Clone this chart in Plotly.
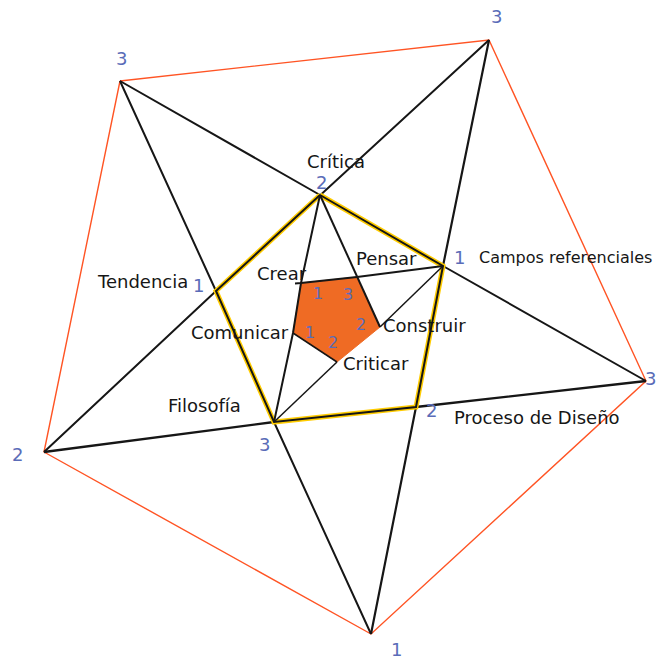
import plotly.graph_objects as go

# Outer pentagon vertices (A..E) and their numbers
outer_x = [120, 489, 646, 371, 44]
outer_y = [81, 40, 381, 634, 452]
outer_nums = ["3", "3", "3", "1", "2"]

# Middle pentagon (F..J), numbers and names
middle_x = [320, 443, 416, 274, 216]
middle_y = [195, 266, 407, 422, 291]
middle_nums = ["2", "1", "2", "3", "1"]
middle_names = ["Crítica", "Campos referenciales", "Proceso de Diseño", "Filosofía", "Tendencia"]

# Inner pentagon (K..O), names and numbers
inner_x = [301, 357, 380, 337, 293]
inner_y = [283, 277, 327, 362, 333]
inner_names = ["Crear", "Pensar", "Construir", "Criticar", "Comunicar"]
inner_nums = ["1", "3", "2", "2", "1"]

RED = "#FF5424"
BLACK = "#161616"
GOLD = "#FFCC00"
ORANGE = "#EF6B24"
BLUE = "#5A6CB8"
FONT = "DejaVu Sans"

A, B, C, D, E = range(5)
F, G, H, I, J = range(5)
K, L, M, N, O = range(5)

def P(xs, ys, i):
    return xs[i], ys[i]

def o(i):
    return P(outer_x, outer_y, i)

def m(i):
    return P(middle_x, middle_y, i)

def n(i):
    return P(inner_x, inner_y, i)

fig = go.Figure()

def add_line(pts, color, width):
    fig.add_trace(go.Scatter(x=[p[0] for p in pts], y=[p[1] for p in pts], mode="lines",
                             line=dict(color=color, width=width), hoverinfo="skip", showlegend=False))

# outer pentagon
add_line([o(A), o(B), o(C), o(D), o(E), o(A)], RED, 1.4)

# outer diagonals through middle vertices
add_line([o(A), m(F), m(G), o(C)], BLACK, 2.0)
add_line([o(A), m(J), m(I), o(D)], BLACK, 2.0)
add_line([o(B), m(F), m(J), o(E)], BLACK, 2.0)
add_line([o(B), m(G), m(H), o(D)], BLACK, 2.2)
add_line([o(C), m(H), m(I), o(E)], BLACK, 2.3)

# middle pentagon: gold band with black line
mid_loop = [m(F), m(G), m(H), m(I), m(J), m(F)]
add_line(mid_loop, GOLD, 5)
add_line(mid_loop, BLACK, 2.0)

# inner pentagon fill
fig.add_trace(go.Scatter(x=inner_x + [inner_x[0]], y=inner_y + [inner_y[0]], mode="lines",
                         fill="toself", fillcolor=ORANGE, line=dict(color=ORANGE, width=1),
                         hoverinfo="skip", showlegend=False))

# inner star lines
add_line([m(F), n(K), n(O), m(I)], BLACK, 2.0)
add_line([m(F), n(L), n(M)], BLACK, 2.0)
add_line([m(G), n(L), n(K), (n(K)[0] - 6, n(K)[1] + 0.5)], BLACK, 2.0)
add_line([m(G), n(M)], BLACK, 1.5)
add_line([m(I), n(N)], BLACK, 1.5)
add_line([n(O), n(N)], BLACK, 1.5)

ann = []
def text(x, y, s, color=BLACK, size=18, xanchor="center"):
    ann.append(dict(x=x, y=y, text=s, showarrow=False, xanchor=xanchor, yanchor="middle",
                    font=dict(family=FONT, size=size, color=color)))

# outer numbers
outer_num_pos = [(121, 58), (496, 16), (650, 378), (396, 649), (17, 454)]
for (x, y), s in zip(outer_num_pos, outer_nums):
    text(x, y, s, BLUE, 18)

# middle numbers
middle_num_pos = [(321, 182), (459, 257), (431, 410), (264, 444), (198, 285)]
for (x, y), s in zip(middle_num_pos, middle_nums):
    text(x, y, s, BLUE, 18)

# middle names
text(336, 161, middle_names[0])
text(477, 257, middle_names[1], size=16, xanchor="left")
text(537, 417, middle_names[2])
text(204, 405, middle_names[3])
text(142, 281, middle_names[4])

# inner names
inner_name_pos = [(282, 273), (386, 258), (424, 325), (376, 363), (240, 332)]
for (x, y), s in zip(inner_name_pos, inner_names):
    text(x, y, s)

# inner numbers
inner_num_pos = [(318, 293), (348, 294), (361, 324), (333, 342), (310, 332)]
for (x, y), s in zip(inner_num_pos, inner_nums):
    text(x, y, s, BLUE, 16)

W, Hh = 656, 659
fig.update_layout(
    width=W, height=Hh,
    margin=dict(l=0, r=0, t=0, b=0),
    paper_bgcolor="white", plot_bgcolor="white",
    xaxis=dict(range=[0, W], visible=False, fixedrange=True),
    yaxis=dict(range=[Hh, 0], visible=False, fixedrange=True),
    annotations=ann,
    showlegend=False,
)

fig.write_html("out.html", config={"displayModeBar": False},
               post_script="document.body.style.margin='0';")
